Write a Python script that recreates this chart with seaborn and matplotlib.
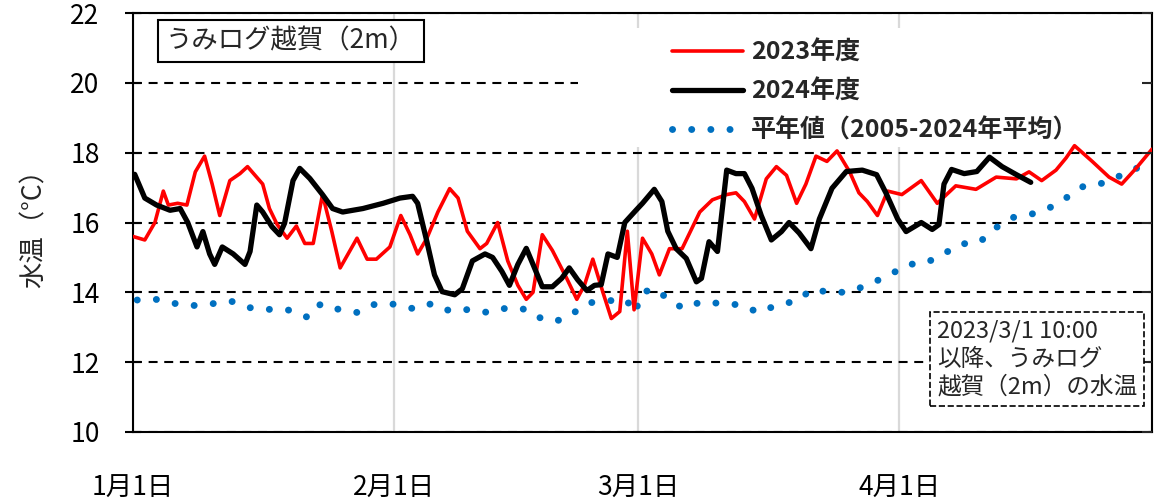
import matplotlib.pyplot as plt
import seaborn as sns
from matplotlib.patches import Rectangle

# days counted from Jan 1 (leap-year calendar: Mar 1 = 60)
days_2023 = [0, 1.4, 2.6, 3.6, 4.2, 5.3, 6.4, 7.4, 8.5, 9.4, 10.3, 11.5, 12.7, 13.6, 15.4, 16.2,
             17.1, 18.3, 19.4, 20.4, 21.4, 22.5, 23.6, 24.6, 26.6, 27.8, 28.9, 30.5, 31.8, 32.9,
             33.8, 34.9, 36.2, 37.6, 38.6, 39.7, 41.2, 42.0, 43.3, 44.5, 45.7, 46.7, 47.5, 48.6,
             49.8, 51.5, 52.7, 53.6, 54.6, 55.8, 56.8, 57.8, 58.7, 59.5, 60.5, 61.6, 62.5, 63.7,
             65.2, 67.3, 68.8, 70.5, 71.6, 72.6, 73.8, 75.2, 76.4, 77.6, 78.8, 79.9, 81.1, 82.4,
             83.6, 85.1, 86.2, 87.2, 88.4, 89.6, 91.3, 93.6, 95.5, 97.7, 100.1, 102.5, 104.9,
             106.4, 107.9, 109.6, 110.8, 111.8, 113.9, 115.9, 117.4, 119.1, 121]
temp_2023 = [15.6, 15.5, 16.0, 16.9, 16.5, 16.55, 16.5, 17.45, 17.9, 17.1, 16.2, 17.2, 17.4, 17.6,
             17.1, 16.4, 15.95, 15.55, 15.9, 15.4, 15.4, 16.8, 15.75, 14.7, 15.55, 14.95, 14.95,
             15.3, 16.2, 15.65, 15.1, 15.55, 16.3, 16.97, 16.7, 15.75, 15.25, 15.4, 16.0, 14.9,
             14.2, 13.8, 14.0, 15.65, 15.2, 14.4, 13.8, 14.2, 14.95, 14.0, 13.25, 13.45, 15.75,
             13.5, 15.55, 15.1, 14.5, 15.25, 15.25, 16.3, 16.65, 16.8, 16.85, 16.6, 16.1, 17.25,
             17.6, 17.35, 16.55, 17.1, 17.9, 17.75, 18.05, 17.45, 16.85, 16.6, 16.2, 16.9, 16.8,
             17.2, 16.55, 17.05, 16.95, 17.3, 17.25, 17.45, 17.2, 17.5, 17.85, 18.2, 17.75, 17.3,
             17.1, 17.55, 18.1]

days_2024 = [0.2, 1.4, 2.8, 4.4, 5.6, 6.5, 7.6, 8.3, 9.1, 9.7, 10.6, 11.9, 13.3, 13.9, 14.7, 15.4,
             16.5, 17.4, 18.0, 19.0, 19.8, 21.0, 22.5, 23.7, 24.9, 27.3, 29.7, 31.7, 33.2, 33.8,
             34.9, 35.8, 36.7, 38.2, 39.1, 40.3, 41.8, 42.7, 43.8, 44.7, 45.7, 46.7, 47.5, 48.6,
             49.8, 50.9, 51.8, 52.8, 53.9, 54.8, 55.6, 56.4, 57.5, 58.4, 59.8, 60.5, 61.9, 62.8,
             63.5, 64.5, 65.7, 66.9, 67.5, 68.4, 69.4, 70.5, 71.6, 72.6, 73.5, 74.6, 75.8, 77.0,
             77.9, 79.1, 80.5, 81.5, 83.0, 84.7, 86.6, 88.3, 89.4, 90.8, 91.8, 93.6, 94.9, 95.7,
             96.3, 97.2, 98.7, 100.2, 101.7, 103.2, 104.9, 106.6]
temp_2024 = [17.38, 16.7, 16.5, 16.35, 16.4, 16.0, 15.3, 15.74, 15.1, 14.8, 15.3, 15.1, 14.8, 15.17,
             16.5, 16.3, 15.88, 15.65, 15.98, 17.2, 17.55, 17.26, 16.8, 16.4, 16.3, 16.4, 16.55,
             16.7, 16.75, 16.55, 15.45, 14.5, 14.02, 13.93, 14.1, 14.9, 15.1, 15.0, 14.6, 14.2,
             14.8, 15.26, 14.8, 14.16, 14.16, 14.4, 14.7, 14.36, 14.05, 14.2, 14.22, 15.1, 15.0,
             16.0, 16.37, 16.55, 16.95, 16.6, 15.75, 15.25, 14.97, 14.3, 14.4, 15.45, 15.17, 17.5,
             17.4, 17.4, 16.98, 16.2, 15.5, 15.74, 16.0, 15.7, 15.25, 16.1, 16.98, 17.46, 17.5,
             17.37, 16.85, 16.1, 15.74, 16.0, 15.8, 15.94, 17.1, 17.52, 17.4, 17.46, 17.87, 17.6,
             17.37, 17.15]

days_normal = [0.5, 2.7, 5.0, 7.1, 9.3, 11.6, 13.9, 16.3, 18.6, 20.8, 22.3, 24.3, 26.7, 28.8, 31.1,
               33.5, 35.5, 37.6, 40.0, 42.2, 44.5, 46.8, 48.8, 50.8, 52.7, 54.2, 56.3, 58.6, 59.6,
               60.4, 61.7, 63.4, 65.3, 67.5, 69.8, 72.2, 74.3, 76.5, 78.8, 80.7, 83.1, 85.4, 87.7,
               90.0, 92.0, 94.0, 96.1, 98.1, 100.5, 102.4, 104.4, 106.7, 108.9, 110.9, 113.0,
               115.3, 117.5, 119.7]
temp_normal = [13.78, 13.8, 13.68, 13.62, 13.67, 13.75, 13.56, 13.51, 13.49, 13.28, 13.67, 13.52,
               13.42, 13.67, 13.66, 13.52, 13.68, 13.47, 13.51, 13.42, 13.56, 13.51, 13.2, 13.2,
               13.47, 13.7, 13.76, 13.78, 13.41, 13.97, 14.11, 13.85, 13.54, 13.73, 13.68, 13.64,
               13.42, 13.64, 13.75, 14.1, 13.97, 14.04, 14.26, 14.52, 14.8, 14.83, 15.07, 15.38,
               15.43, 15.84, 16.14, 16.24, 16.43, 16.72, 17.06, 17.13, 17.37, 17.61]

month_ticks = [0, 31, 60, 91, 121]
month_labels = ["1月1日", "2月1日", "3月1日", "4月1日", ""]
y_ticks = [10, 12, 14, 16, 18, 20, 22]

sns.set_style("white")
jp_font = ['Noto Sans CJK JP', 'DejaVu Sans']
plt.rcParams['font.family'] = jp_font

fig = plt.figure(figsize=(11.54, 5), dpi=100)
ax = fig.add_axes([133 / 1154, 68 / 500, 1019 / 1154, 419 / 500])

sns.lineplot(x=days_2023, y=temp_2023, ax=ax, color="#ff0000", lw=2.6, label="2023年度", zorder=3)
sns.lineplot(x=days_2024, y=temp_2024, ax=ax, color="black", lw=3.8, label="2024年度", zorder=4)
sns.lineplot(x=days_normal, y=temp_normal, ax=ax, color="#0070c0", lw=5, label="平年値（2005-2024年平均）",
             linestyle=(0, (0.01, 2.75)), dash_capstyle="round", zorder=2)

ax.set_xlim(0, 121)
ax.set_ylim(10, 22)
ax.set_xticks(month_ticks)
ax.set_xticklabels(month_labels)
ax.set_yticks(y_ticks)
ax.set_xlabel("")
ax.set_ylabel("水温（°C）", fontsize=19, labelpad=16)

ax.set_axisbelow(True)
ax.yaxis.grid(True, color="black", lw=1.5, linestyle=(0, (4.3, 3.2)))
ax.xaxis.grid(True, color="#d9d9d9", lw=1.6)
for s in ax.spines.values():
    s.set_color("black")
    s.set_linewidth(1.5)
ax.tick_params(axis="both", direction="inout", length=12, width=1.5, labelsize=19, colors="black")
ax.tick_params(axis="y", pad=18)
ax.tick_params(axis="x", pad=25)

# right-hand ticks (inside only)
ax2 = ax.twinx()
ax2.set_ylim(10, 22)
ax2.set_yticks(y_ticks)
ax2.tick_params(axis="y", direction="in", length=7, width=1.5, labelright=False)
ax2.grid(False)
for s in ax2.spines.values():
    s.set_visible(False)

# white area behind the legend
ax.add_patch(Rectangle((578 / 1154, 1 - 147 / 500), 572 / 1154, 119 / 500, transform=fig.transFigure,
                       facecolor="white", edgecolor="none", zorder=1))

ax.legend(loc="upper left", bbox_to_anchor=(672 / 1154, 1 - 41 / 500), bbox_transform=fig.transFigure,
          frameon=False, borderpad=0, borderaxespad=0, handlelength=2.85, handletextpad=0.3,
          labelspacing=0.58, prop={"family": jp_font, "weight": "bold", "size": 18})

fig.text(166 / 1154, 1 - 41 / 500, "うみログ越賀（2m）", fontsize=19, va="center", ha="left",
         bbox=dict(boxstyle="square,pad=0.3", facecolor="white", edgecolor="black", lw=1.5))

fig.text(937 / 1154, 1 - 359 / 500, "2023/3/1 10:00\n以降、うみログ\n越賀（2m）の水温", fontsize=17,
         va="center", ha="left", linespacing=1.3,
         bbox=dict(boxstyle="square,pad=0.3", facecolor="white", edgecolor="black", lw=1.2, ls="--"))

fig.savefig("out.png", dpi=100)
